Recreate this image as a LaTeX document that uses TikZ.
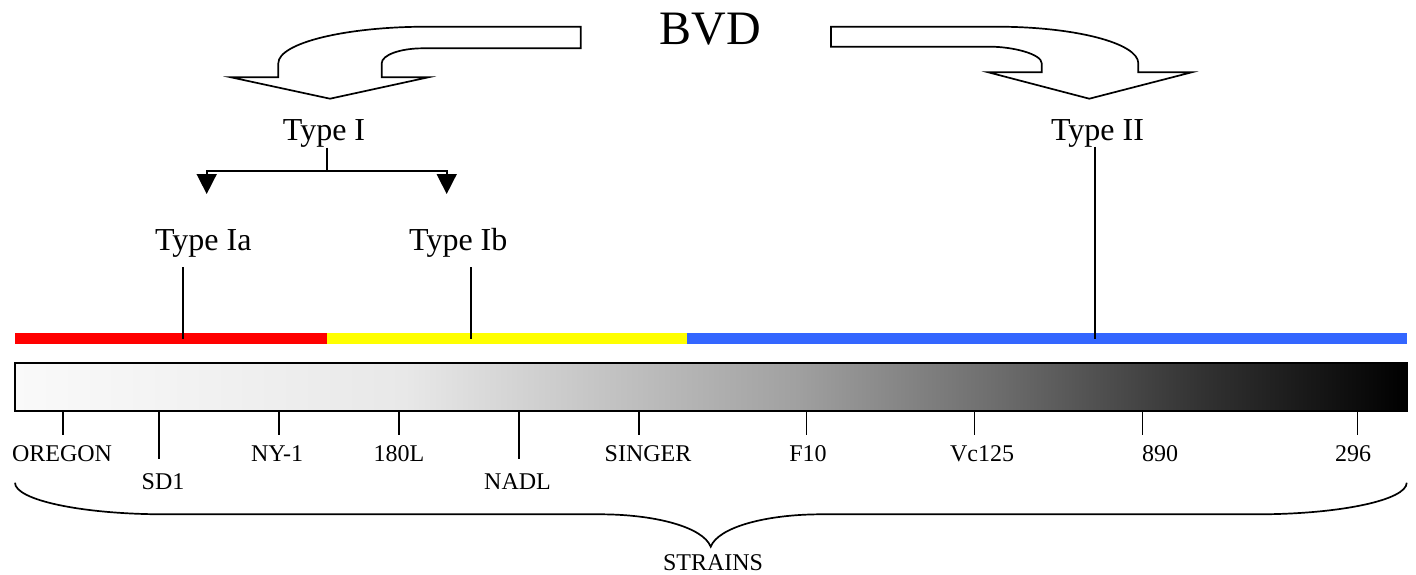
\documentclass[tikz,border=0pt]{standalone}
\usepackage{fontspec}
\setmainfont{Liberation Serif}
\usetikzlibrary{arrows.meta}
\definecolor{bvdred}{RGB}{255,0,0}
\definecolor{bvdyellow}{RGB}{255,255,0}
\definecolor{bvdblue}{RGB}{51,102,255}
\pgfdeclarehorizontalshading{strainshade}{100bp}{color(0bp)=(black!2); color(25bp)=(black!2); color(39bp)=(black!9); color(45.5bp)=(black!22); color(53bp)=(black!37); color(60.5bp)=(black!58); color(67.5bp)=(black!80); color(75bp)=(black); color(100bp)=(black)}
\tikzstyle{bigarrow}=[draw=black, line width=0.85pt, fill=white, line join=miter]
\tikzstyle{annot}=[inner sep=0pt, anchor=base]
\tikzstyle{typelabel}=[annot, font=\fontsize{16}{19}\selectfont]
\tikzstyle{strainlabel}=[annot, font=\fontsize{12}{14}\selectfont]
\tikzstyle{typelink}=[line width=0.8pt]
\tikzstyle{striptick}=[line width=0.85pt]
\tikzstyle{fork}=[line width=0.8pt, -{Triangle[length=10pt,width=10pt]}]

\begin{document}
\begin{tikzpicture}[x=0.5pt,y=-0.5pt]
	\useasboundingbox (0,0) rectangle (1416,574);

	% the two fat arrows
	\draw[bigarrow] (580.7,26.7) -- (426.7,26.7) .. controls (345,26.7) and (278.3,43.1) .. (278.3,63.3) -- (278.3,77.3) -- (231,77.3) -- (330,98.7) -- (428.3,77.3) -- (381.7,77.3) -- (381.7,63.3) .. controls (381.7,55) and (400.2,48.3) .. (423,48.3) -- (580.7,48.3) -- cycle;
	\draw[bigarrow] (831,26.7) -- (996.7,26.7) .. controls (1074.9,26.7) and (1138.3,43.1) .. (1138.3,63.3) -- (1138.3,72.3) -- (1191.7,72.3) -- (1089.3,98.7) -- (988.3,72.3) -- (1041.7,72.3) -- (1041.7,63.3) .. controls (1041.7,54.1) and (1013.2,46.7) .. (990,46.7) -- (831,46.7) -- cycle;

	\node[annot, font=\fontsize{24}{29}\selectfont] (bvd) at (710,44.3) {BVD};
	\node[typelabel] (typeI) at (324,140.7) {Type I};
	\node[typelabel] (typeII) at (1097.5,140.7) {Type II};
	\node[typelabel] (typeIa) at (203.3,250) {Type Ia};
	\node[typelabel] (typeIb) at (458.3,250) {Type Ib};

	% coloured strip and strain bar
	\fill[bvdred] (15,333.3) rectangle (327,344.3);
	\fill[bvdyellow] (327,333.3) rectangle (687,344.3);
	\fill[bvdblue] (687,333.3) rectangle (1407,344.3);
	\shadedraw[line width=0.85pt, shading=strainshade] (15,362.7) rectangle (1407,410.7);

	\coordinate (stem) at (326.7,147.7);
	\coordinate (forkmid) at (326.7,170.7);
	\coordinate (tipIa) at (206.7,194);
	\coordinate (tipIb) at (446.7,194);
	\draw[typelink] (stem) -- (forkmid);
	\draw[fork] (forkmid) -| (tipIa);
	\draw[fork] (forkmid) -| (tipIb);

	\coordinate (topIa) at (182.7,267);
	\coordinate (barIa) at (182.7,339.3);
	\coordinate (topIb) at (470.7,267);
	\coordinate (barIb) at (470.7,339.3);
	\coordinate (topII) at (1095,146.7);
	\coordinate (barII) at (1095,339.3);
	\draw[typelink] (topIa) -- (barIa);
	\draw[typelink] (topIb) -- (barIb);
	\draw[typelink] (topII) -- (barII);

	\foreach \x/\lx/\lab/\len/\row [count=\i] in {62.7/62/OREGON/435/461, 158.7/163/SD1/459.3/489.3, 278.7/277/NY-1/435/461, 399/399/180L/435/461, 519/517.5/NADL/459.3/489.3, 638.7/648/SINGER/435/461, 806.5/808/F10/435/461, 974.5/982/Vc125/435/461, 1142.5/1160/890/435/461, 1357.6/1353/296/435/461}
	{
		\coordinate (tick\i) at (\x,410.7);
		\coordinate (tickend\i) at (\x,\len);
		\draw[striptick] (tick\i) -- (tickend\i);
		\node[strainlabel] (strain\i) at (\lx,\row) {\lab};
	}

	% brace
	\draw[line width=0.85pt] (15,482.7) .. controls (15,500.1) and (82.2,514.3) .. (165,514.3) -- (600,514.3) .. controls (655,514.3) and (703,527) .. (710.7,546.7) .. controls (718.4,527) and (766.4,514.3) .. (821.4,514.3) -- (1256.7,514.3) .. controls (1339.5,514.3) and (1406.7,500.1) .. (1406.7,482.7);
	\node[strainlabel] (strains) at (713,570.7) {STRAINS};
\end{tikzpicture}
\end{document}
